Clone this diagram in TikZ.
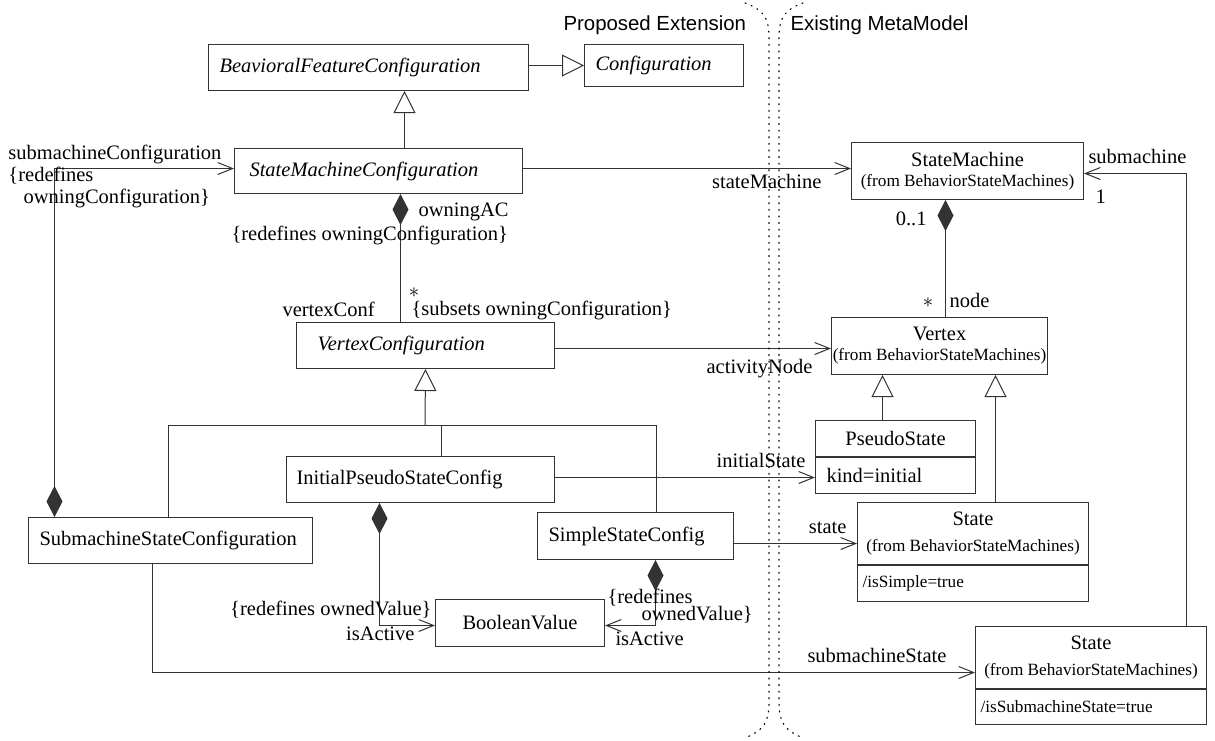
\documentclass[tikz,border=0pt]{standalone}
\usepackage{fontspec}
\setmainfont{Liberation Serif}
\newfontfamily\hsans{Liberation Sans}
\usetikzlibrary{arrows.meta}
\newcommand\fN{\fontsize{20.5}{20}\selectfont}
\newcommand\fS{\fontsize{17.2}{20}\selectfont}
\newcommand\fH{\hsans\fontsize{20.4}{24}\selectfont}

\begin{document}
\begin{tikzpicture}[x=1pt,y=-1pt,line width=1pt,
  box/.style={draw=black!80, inner sep=0pt, anchor=north west, font=\fN},
  lefttext/.style={align=left, text width=#1},
  lab/.style={font=\fN, inner sep=0pt},
  ast/.style={inner sep=0pt, font=\fN},
  assoc/.style={draw=black!80, -{Straight Barb[length=15pt,width=12pt]}},
  gen/.style={draw=black!80, -{Triangle[open,length=22pt,width=22pt]}},
  comp/.style={draw=black!80, {Diamond[length=31pt,width=16pt]}-},
  compnav/.style={draw=black!80, {Diamond[length=31pt,width=16pt]}-{Straight Barb[length=15pt,width=12pt]}},
  link/.style={draw=black!80},
  sep/.style={draw=black, line width=1.1pt, dash pattern=on 1.1pt off 5.5pt, line cap=round}
]
\useasboundingbox (0,0) rectangle (1215,740);

% ---- region headings
\node[font=\fH, inner sep=0pt, anchor=base west] (hext) at (563,30) {Proposed Extension};
\node[font=\fH, inner sep=0pt, anchor=base west] (hmeta) at (790,30) {Existing MetaModel};

% ---- classes of the extension
\node[box, minimum width=320pt, minimum height=46pt, inner xsep=11pt, lefttext=298pt] (bfc) at (208,44) {\itshape BeavioralFeatureConfiguration};
\node[box, minimum width=159pt, minimum height=42pt, inner xsep=11pt, lefttext=137pt] (conf) at (584,44) {\itshape Configuration};
\node[box, minimum width=288pt, minimum height=45pt, inner xsep=15pt, lefttext=258pt] (smc) at (234,148) {\itshape StateMachineConfiguration};
\node[box, minimum width=258pt, minimum height=46pt, inner xsep=21pt, lefttext=216pt] (vc) at (296,322) {\itshape VertexConfiguration};
\node[box, minimum width=268pt, minimum height=46pt, inner xsep=10pt, lefttext=248pt] (ipsc) at (286,456) {InitialPseudoStateConfig};
\node[box, minimum width=284pt, minimum height=46pt, inner xsep=11pt, lefttext=262pt] (smsc) at (28,517) {SubmachineStateConfiguration};
\node[box, minimum width=196pt, minimum height=47pt, inner xsep=11pt, lefttext=174pt] (ssc) at (537,512) {SimpleStateConfig};
\node[box, minimum width=169pt, minimum height=47pt] (bv) at (435,599) {BooleanValue};

% ---- classes of the existing metamodel
\node[box, minimum width=232pt, minimum height=57pt, align=center] (sm) at (851,142) {StateMachine\\{\fS (from BehaviorStateMachines)}};
\node[box, minimum width=216pt, minimum height=57pt, align=center] (vertex) at (831,317) {Vertex\\{\fS (from BehaviorStateMachines)}};
\node[box, minimum width=160pt, minimum height=36pt] (pseudo) at (815,420) {PseudoState};
\node[box, minimum width=160pt, minimum height=36pt, inner xsep=11pt, lefttext=138pt, anchor=north] (pseudoattr) at (pseudo.south) {kind=initial};
\node[box, minimum width=231pt, minimum height=62pt, align=center] (st1) at (857,502) {State\\[6pt]{\fS (from BehaviorStateMachines)}};
\node[box, minimum width=231pt, minimum height=36pt, inner xsep=5pt, lefttext=221pt, anchor=north, font=\fS] (st1attr) at (st1.south) {/isSimple=true};
\node[box, minimum width=231pt, minimum height=62pt, align=center] (st2) at (975,626) {State\\[6pt]{\fS (from BehaviorStateMachines)}};
\node[box, minimum width=231pt, minimum height=35pt, inner xsep=5pt, lefttext=221pt, anchor=north, font=\fS] (st2attr) at (st2.south) {/isSubmachineState=true};

% ---- generalizations
\draw[gen] (bfc.east |- conf.west) -- (conf.west);
\draw[gen] ([xshift=26pt]smc.north) -- ([xshift=26pt]smc.north |- bfc.south);
\coordinate (gbus) at (425,425);
\draw[gen] (gbus) -- (vc.south);
\draw[link] ([xshift=-2pt]smsc.north) |- (gbus);
\draw[link] ([xshift=21pt]ssc.north) |- (gbus);
\draw[link] ([xshift=21pt]ipsc.north) -- ([xshift=21pt]ipsc.north |- gbus);
\draw[gen] ([xshift=-13pt]pseudo.north) -- ([xshift=-13pt]pseudo.north |- vertex.south);
\draw[gen] ([xshift=22.5pt]st1.north) -- ([xshift=22.5pt]st1.north |- vertex.south);

% ---- compositions
\draw[comp] ([xshift=22pt]smc.south) -- ([xshift=22pt]smc.south |- vc.north);
\draw[comp] ([xshift=-22pt]sm.south) -- ([xshift=-22pt]sm.south |- vertex.north);
\draw[compnav] ([xshift=-116pt]smsc.north) |- ([yshift=2.5pt]smc.west);
\draw[compnav] ([xshift=-41pt]ipsc.south) |- ([yshift=-2.5pt]bv.west);
\draw[compnav] ([xshift=20pt]ssc.south) |- ([yshift=-2.5pt]bv.east);

% ---- directed associations
\draw[assoc] ([yshift=2.5pt]smc.east) -- ([yshift=2.5pt]smc.east -| sm.west);
\draw[assoc] ([yshift=-3pt]vc.east) -- ([yshift=-3pt]vc.east -| vertex.west);
\draw[assoc] ([yshift=2pt]ipsc.east) -- ([yshift=2pt]ipsc.east -| pseudo.west);
\draw[assoc] ([yshift=-7.5pt]ssc.east) -- ([yshift=-7.5pt]ssc.east -| st1.west);
\draw[assoc] ([xshift=-18pt]smsc.south) |- ([yshift=-15pt]st2.west);
\draw[assoc] ([xshift=95.5pt]st2.north) |- ([yshift=-2.5pt]sm.east);

% ---- role names and multiplicities
\node[lab, anchor=base west] (l1) at (8,159) {submachineConfiguration};
\node[lab, anchor=base west] (l2) at (8,181) {\{redefines};
\node[lab, anchor=base west] (l3) at (23,203) {owningConfiguration\}};
\node[lab, anchor=base east] (l4) at (822,188) {stateMachine};
\node[lab, anchor=base west] (l5) at (418,216) {owningAC};
\node[lab, anchor=base west] (l6) at (231,240) {\{redefines owningConfiguration\}};
\node[lab, anchor=base east] (l7) at (927,225) {0..1};
\node[lab, anchor=base west] (l8) at (1088,163) {submachine};
\node[lab, anchor=base west] (l9) at (1095,203) {1};
\node[ast] (l10) at (928,303) {$\ast$};
\node[lab, anchor=base west] (l11) at (949,307) {node};
\node[ast] (l12) at (414,293) {$\ast$};
\node[lab, anchor=base west] (l13) at (282,316) {vertexConf};
\node[lab, anchor=base west] (l14) at (411,315) {\{subsets owningConfiguration\}};
\node[lab, anchor=base east] (l15) at (813,373) {activityNode};
\node[lab, anchor=base east] (l16) at (806,467) {initialState};
\node[lab, anchor=base east] (l17) at (847,533) {state};
\node[lab, anchor=base east] (l18) at (432,615) {\{redefines ownedValue\}};
\node[lab, anchor=base east] (l19) at (415,640) {isActive};
\node[lab, anchor=base west] (l20) at (607,603) {\{redefines};
\node[lab, anchor=base west] (l21) at (641,620) {ownedValue\}};
\node[lab, anchor=base west] (l22) at (615,645) {isActive};
\node[lab, anchor=base west] (l23) at (807,662) {submachineState};

% ---- boundary between the two parts
\draw[sep] (745,3) .. controls (764,10) and (769,18) .. (769,38) -- (769,702) .. controls (769,722) and (764,730) .. (745,738);
\draw[sep] (803,3) .. controls (784,10) and (779,18) .. (779,38) -- (779,702) .. controls (779,722) and (784,730) .. (803,738);
\end{tikzpicture}
\end{document}
